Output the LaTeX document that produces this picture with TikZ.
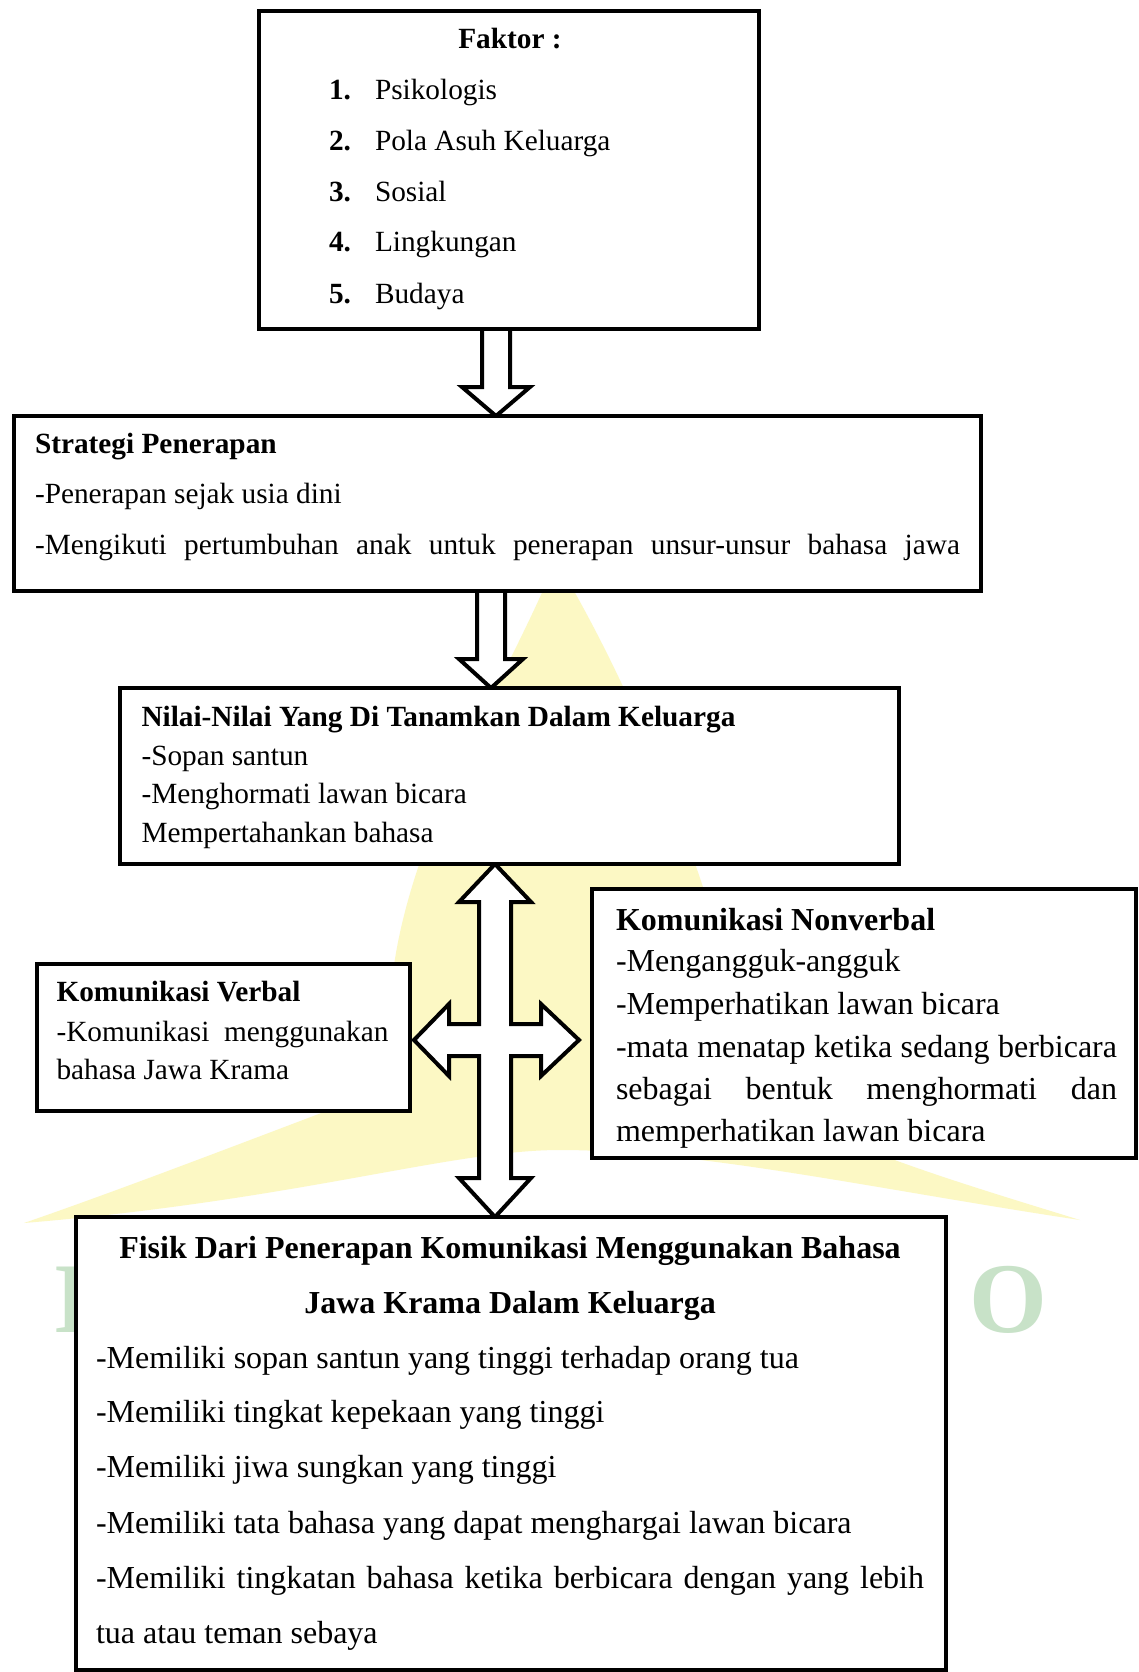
\documentclass[tikz,border=0pt]{standalone}
\usepackage{fontspec}
\setmainfont{Liberation Serif}
\usetikzlibrary{calc}
\definecolor{wmyellow}{RGB}{252,248,196}
\definecolor{wmgreen}{RGB}{200,226,200}
\tikzset{
 box/.style={draw=black, line width=4pt, fill=white, rectangle, outer sep=0pt, inner sep=0pt},
 blk/.style={draw=black, line width=4pt, fill=white, line join=miter},
 ta/.style={inner sep=0pt, outer sep=0pt, anchor=base west, font=\fontsize{29.3}{35}\selectfont},
 tb/.style={inner sep=0pt, outer sep=0pt, anchor=base west, font=\fontsize{32}{38}\selectfont},
 wmtext/.style={inner sep=0pt, outer sep=0pt, anchor=base west, text=wmgreen, font=\fontsize{100}{110}\selectfont\bfseries},
}
\begin{document}
\begin{tikzpicture}[x=1pt,y=-1pt]
\useasboundingbox (0,0) rectangle (1139,1672);
\fill[white] (0,0) rectangle (1139,1672);
% watermark (faint logo behind the chart)
\fill[wmyellow] (556,560) .. controls (500,700) and (360,900) .. (395,1085)
  .. controls (250,1140) and (120,1190) .. (24,1223)
  .. controls (300,1200) and (450,1150) .. (560,1150)
  .. controls (700,1150) and (880,1190) .. (1080,1220)
  .. controls (950,1180) and (850,1150) .. (760,1100)
  .. controls (720,900) and (640,700) .. (556,560) -- cycle;
\node[wmtext] (wmI) at (53,1332) {I};
\node[wmtext] (wmO) at (969,1332) {O};

% named anchors for the block arrows
\coordinate (A1) at (496,0);
\coordinate (A2) at (491,0);
\coordinate (C) at (495,1040);

% box geometry
\path (509,170) node[box, draw=none, fill=none, minimum width=500, minimum height=318] (b1) {};
\path (497.5,503.5) node[box, draw=none, fill=none, minimum width=967, minimum height=175] (b2) {};
\path (509.5,776) node[box, draw=none, fill=none, minimum width=779, minimum height=176] (b3) {};
\path (223.5,1037.5) node[box, draw=none, fill=none, minimum width=373, minimum height=147] (b4) {};
\path (864,1023.5) node[box, draw=none, fill=none, minimum width=544, minimum height=269] (b5) {};
\path (511,1443.5) node[box, draw=none, fill=none, minimum width=870, minimum height=453] (b6) {};

% block arrows
\draw[blk] ($(b1.south -| A1)+(-14,0)$) -- ($(b2.north -| A1)+(-14,-29)$) -- ($(b2.north -| A1)+(-34,-29)$) -- (b2.north -| A1) -- ($(b2.north -| A1)+(34,-29)$) -- ($(b2.north -| A1)+(14,-29)$) -- ($(b1.south -| A1)+(14,0)$);
\draw[blk] ($(b2.south -| A2)+(-14,0)$) -- ($(b3.north -| A2)+(-14,-29)$) -- ($(b3.north -| A2)+(-32,-29)$) -- (b3.north -| A2) -- ($(b3.north -| A2)+(32,-29)$) -- ($(b3.north -| A2)+(14,-29)$) -- ($(b2.south -| A2)+(14,0)$);
\draw[blk] (b3.south -| C) -- ($(C)+(36,-138)$) -- ($(C)+(16,-138)$) -- ($(C)+(16,-16)$) -- ($(C)+(46,-16)$) -- ($(C)+(46,-36)$)
  -- ($(b5.west |- C)+(-13,0)$) -- ($(C)+(46,36)$) -- ($(C)+(46,16)$) -- ($(C)+(16,16)$) -- ($(C)+(16,138)$) -- ($(C)+(36,138)$)
  -- (b6.north -| C) -- ($(C)+(-36,138)$) -- ($(C)+(-16,138)$) -- ($(C)+(-16,16)$) -- ($(C)+(-46,16)$) -- ($(C)+(-46,36)$)
  -- ($(b4.east |- C)+(4,0)$) -- ($(C)+(-46,-36)$) -- ($(C)+(-46,-16)$) -- ($(C)+(-16,-16)$) -- ($(C)+(-16,-138)$) -- ($(C)+(-36,-138)$) -- cycle;

% visible boxes
\node[box, minimum width=500, minimum height=318] (B1) at (b1) {};
\node[box, minimum width=967, minimum height=175] (B2) at (b2) {};
\node[box, minimum width=779, minimum height=176] (B3) at (b3) {};
\node[box, minimum width=373, minimum height=147] (B4) at (b4) {};
\node[box, minimum width=544, minimum height=269] (B5) at (b5) {};
\node[box, minimum width=870, minimum height=453] (B6) at (b6) {};

% box 1 text
\node[ta, anchor=base] (f0) at (510,48.5) {\bfseries Faktor :};
\node[ta] (f1n) at (329,100) {\bfseries 1.};
\node[ta] (f1) at (375,100) {Psikologis};
\node[ta] (f2n) at (329,150.5) {\bfseries 2.};
\node[ta] (f2) at (375,150.5) {Pola Asuh Keluarga};
\node[ta] (f3n) at (329,201) {\bfseries 3.};
\node[ta] (f3) at (375,201) {Sosial};
\node[ta] (f4n) at (329,251) {\bfseries 4.};
\node[ta] (f4) at (375,251) {Lingkungan};
\node[ta] (f5n) at (329,303) {\bfseries 5.};
\node[ta] (f5) at (375,303) {Budaya};

% box 2 text
\node[ta] (s0) at (35,453) {\bfseries Strategi Penerapan};
\node[ta] (s1) at (35,503) {-Penerapan sejak usia dini};
\node[ta] (s2) at (35,554) {\makebox[925pt][s]{-Mengikuti pertumbuhan anak untuk penerapan unsur-unsur bahasa jawa}};

% box 3 text
\node[ta] (n0) at (141.5,726) {\bfseries Nilai-Nilai Yang Di Tanamkan Dalam Keluarga};
\node[ta] (n1) at (141.5,765) {-Sopan santun};
\node[ta] (n2) at (141.5,803) {-Menghormati lawan bicara};
\node[ta] (n3) at (141.5,842.5) {Mempertahankan bahasa};

% box 4 text
\node[ta] (v0) at (56.5,1001) {\bfseries Komunikasi Verbal};
\node[ta] (v1) at (56.5,1041) {\makebox[332pt][s]{-Komunikasi menggunakan}};
\node[ta] (v2) at (56.5,1079) {bahasa Jawa Krama};

% box 5 text
\node[tb] (k0) at (616,930) {\bfseries Komunikasi Nonverbal};
\node[tb] (k1) at (616,971) {-Mengangguk-angguk};
\node[tb] (k2) at (616,1014) {-Memperhatikan lawan bicara};
\node[tb] (k3) at (616,1057) {\makebox[501pt][s]{-mata menatap ketika sedang berbicara}};
\node[tb] (k4) at (616,1099) {\makebox[501pt][s]{sebagai bentuk menghormati dan}};
\node[tb] (k5) at (616,1141) {memperhatikan lawan bicara};

% box 6 text
\node[tb, anchor=base] (h1) at (510,1258) {\bfseries Fisik Dari Penerapan Komunikasi Menggunakan Bahasa};
\node[tb, anchor=base] (h2) at (510,1313) {\bfseries Jawa Krama Dalam Keluarga};
\node[tb] (m1) at (96,1368) {-Memiliki sopan santun yang tinggi terhadap orang tua};
\node[tb] (m2) at (96,1422) {-Memiliki tingkat kepekaan yang tinggi};
\node[tb] (m3) at (96,1477) {-Memiliki jiwa sungkan yang tinggi};
\node[tb] (m4) at (96,1533) {-Memiliki tata bahasa yang dapat menghargai lawan bicara};
\node[tb] (m5) at (96,1588) {\makebox[828pt][s]{-Memiliki tingkatan bahasa ketika berbicara dengan yang lebih}};
\node[tb] (m6) at (96,1643) {tua atau teman sebaya};
\end{tikzpicture}
\end{document}
